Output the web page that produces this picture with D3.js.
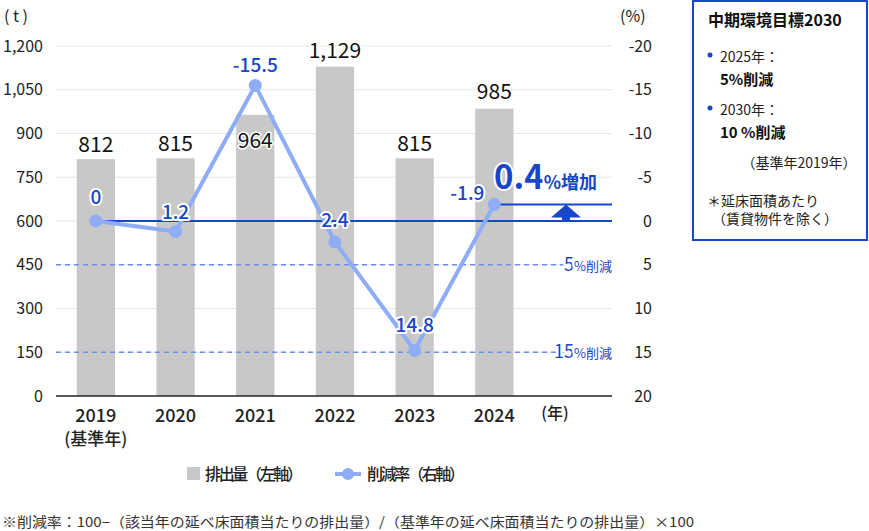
<!DOCTYPE html>
<html><head><meta charset="utf-8">
<script src="https://cdn.jsdelivr.net/npm/d3@7"></script>
<style>
body{margin:0;background:#fff;}
text{font-family:"Noto Sans CJK JP","Noto Sans",sans-serif;}
</style></head>
<body><svg id="c" width="869" height="531"></svg>
<script>
const years = ["2019","2020","2021","2022","2023","2024"];
const emissions = [812, 815, 964, 1129, 815, 985];
const rates = [0, 1.2, -15.5, 2.4, 14.8, -1.9];
const rateLabels = ["0","1.2","-15.5","2.4","14.8","-1.9"];
const leftTicks = [0,150,300,450,600,750,900,1050,1200];
const rightTicks = [-20,-15,-10,-5,0,5,10,15,20];
const targets = [5, 15];

const svg = d3.select("#c");
const L = 56, R = 612, T = 46, B = 396;
const x = d3.scaleBand().domain(years).range([L, 534.2]).paddingInner(0.52).paddingOuter(0.26);
const yL = d3.scaleLinear().domain([0,1200]).range([B,T]);
const yR = d3.scaleLinear().domain([-20,20]).range([T,B]);
const cx = d => x(d) + x.bandwidth()/2;
const blue = "#1746c8", light = "#8eadf5", dash = "#6f8fe8";

// gridlines
svg.append("g").selectAll("line").data(leftTicks.filter(d=>d>0)).join("line")
  .attr("x1",L).attr("x2",R).attr("y1",d=>yL(d)).attr("y2",d=>yL(d))
  .attr("stroke","#e6e6e6").attr("stroke-width",1);

// left axis
const gl = svg.append("g").attr("transform",`translate(${L-10},0)`)
  .call(d3.axisLeft(yL).tickValues(leftTicks).tickSize(0).tickFormat(d3.format(",")));
gl.select(".domain").remove();
gl.selectAll("text").attr("font-size",16).attr("fill","#222").attr("font-family",'"Noto Sans CJK JP",sans-serif');
// right axis
const gr = svg.append("g").attr("transform",`translate(${652},0)`)
  .call(d3.axisLeft(yR).tickValues(rightTicks).tickSize(0).tickPadding(0).tickFormat(d=>String(d)));
gr.select(".domain").remove();
gr.selectAll("text").attr("font-size",16).attr("fill","#222").attr("font-family",'"Noto Sans CJK JP",sans-serif');

svg.append("text").attr("x",4).attr("y",22).attr("font-size",16).attr("fill","#222").text("( t )");
svg.append("text").attr("x",620).attr("y",22).attr("font-size",16).attr("fill","#222").text("(%)");

// bars
svg.append("g").selectAll("rect").data(years).join("rect")
  .attr("x",d=>x(d)).attr("width",x.bandwidth())
  .attr("y",(d,i)=>yL(emissions[i])).attr("height",(d,i)=>B-yL(emissions[i]))
  .attr("fill","#c8c8c8");

// target dashed lines
targets.forEach(t=>{
  svg.append("line").attr("x1",L).attr("x2",R).attr("y1",yR(t)).attr("y2",yR(t))
    .attr("stroke",dash).attr("stroke-width",1.5).attr("stroke-dasharray","5,4");
  const tx = svg.append("text").attr("x",R).attr("y",yR(t)+6).attr("text-anchor","end")
    .attr("fill",blue).attr("paint-order","stroke").attr("stroke","#fff").attr("stroke-width",5);
  tx.append("tspan").attr("font-size",18).text(t);
  tx.append("tspan").attr("font-size",13).text("%削減");
});

// x axis
svg.append("line").attr("x1",L).attr("x2",R).attr("y1",B).attr("y2",B).attr("stroke","#222").attr("stroke-width",1.5);
svg.append("g").selectAll("text").data(years).join("text")
  .attr("x",d=>cx(d)).attr("y",422).attr("text-anchor","middle")
  .attr("font-size",18).attr("font-weight",500).attr("fill","#222").text(d=>d);
svg.append("text").attr("x",cx(years[0])).attr("y",445).attr("text-anchor","middle")
  .attr("font-size",17).attr("font-weight",500).attr("fill","#222").text("(基準年)");
svg.append("text").attr("x",555).attr("y",419).attr("text-anchor","middle")
  .attr("font-size",16).attr("font-weight",500).attr("fill","#222").text("(年)");

// zero line (from first point) and latest level line
svg.append("line").attr("x1",cx(years[0])).attr("x2",R).attr("y1",yR(0)).attr("y2",yR(0))
  .attr("stroke",blue).attr("stroke-width",2);
svg.append("line").attr("x1",cx(years[5])).attr("x2",R).attr("y1",yR(rates[5])).attr("y2",yR(rates[5]))
  .attr("stroke",blue).attr("stroke-width",2);
// arrow
const ax = 566, aTop = yR(rates[5]), aBase = aTop+13;
svg.append("path").attr("d",`M${ax},${aTop}L${ax+15},${aBase}L${ax+4},${aBase}L${ax+4},${yR(0)}L${ax-4},${yR(0)}L${ax-4},${aBase}L${ax-15},${aBase}Z`)
  .attr("fill",blue);

// bar value labels
const barDy = [-7,-7,33,-9,-7,-10];
svg.append("g").selectAll("text").data(years).join("text")
  .attr("x",d=>cx(d)).attr("y",(d,i)=>yL(emissions[i])+barDy[i]).attr("text-anchor","middle")
  .attr("font-size",21).attr("font-weight",400).attr("fill","#111")
  .attr("paint-order","stroke").attr("stroke","#fff").attr("stroke-width",3).attr("stroke-linejoin","round")
  .text((d,i)=>d3.format(",")(emissions[i]));

// rate line
const line = d3.line().x((d,i)=>cx(years[i])).y(d=>yR(d));
svg.append("path").datum(rates).attr("d",line).attr("fill","none").attr("stroke",light).attr("stroke-width",4).attr("stroke-linejoin","round");
svg.append("g").selectAll("circle").data(rates).join("circle")
  .attr("cx",(d,i)=>cx(years[i])).attr("cy",d=>yR(d)).attr("r",6.5).attr("fill",light);

// rate labels
const rDx = [0,0,0,0,0,-27], rDy = [-17,-13,-13,-15,-19,-4];
svg.append("g").selectAll("text").data(rates).join("text")
  .attr("x",(d,i)=>cx(years[i])+rDx[i]).attr("y",(d,i)=>yR(d)+rDy[i]).attr("text-anchor","middle")
  .attr("font-size",19).attr("font-weight",500).attr("fill",blue)
  .attr("paint-order","stroke").attr("stroke","#fff").attr("stroke-width",4).attr("stroke-linejoin","round")
  .text((d,i)=>rateLabels[i]);

// 0.4% increase label
const inc = svg.append("text").attr("x",494).attr("y",189).attr("fill",blue).attr("font-weight",700)
  .attr("paint-order","stroke").attr("stroke","#fff").attr("stroke-width",4).attr("stroke-linejoin","round");
inc.append("tspan").attr("font-size",33).text("0.4");
inc.append("tspan").attr("font-size",18).text("%増加");

// legend
svg.append("rect").attr("x",187).attr("y",467).attr("width",13).attr("height",13).attr("fill","#c8c8c8");
svg.append("text").attr("x",205).attr("y",480).attr("font-size",16).attr("font-weight",500).attr("fill","#222").text("排出量（左軸）").attr("textLength",98);
svg.append("line").attr("x1",335).attr("x2",361).attr("y1",474).attr("y2",474).attr("stroke",light).attr("stroke-width",4);
svg.append("circle").attr("cx",348).attr("cy",474).attr("r",6).attr("fill",light);
svg.append("text").attr("x",367).attr("y",480).attr("font-size",16).attr("font-weight",500).attr("fill","#222").text("削減率（右軸）").attr("textLength",98);

// footnote
svg.append("text").attr("x",2).attr("y",527).attr("font-size",13.5).attr("fill","#333")
  .attr("textLength",692).attr("lengthAdjust","spacingAndGlyphs")
  .text("※削減率：100−（該当年の延べ床面積当たりの排出量）/（基準年の延べ床面積当たりの排出量）×100");

// target box
svg.append("rect").attr("x",693).attr("y",1).attr("width",174).attr("height",239).attr("fill","#fff").attr("stroke",blue).attr("stroke-width",2);
svg.append("text").attr("x",708).attr("y",26).attr("font-size",16).attr("font-weight",700).attr("fill","#111").text("中期環境目標2030");
[[55,"2025年：","5%削減"],[108,"2030年：","10 %削減"]].forEach(([yy,a,b])=>{
  svg.append("circle").attr("cx",710).attr("cy",yy).attr("r",2.5).attr("fill",blue);
  svg.append("text").attr("x",720).attr("y",yy+7).attr("font-size",14).attr("fill","#222").text(a);
  svg.append("text").attr("x",720).attr("y",yy+30).attr("font-size",15).attr("font-weight",700).attr("fill","#111").text(b);
});
svg.append("text").attr("x",799).attr("y",168).attr("text-anchor","middle").attr("font-size",14).attr("fill","#222").text("（基準年2019年）");
svg.append("text").attr("x",707).attr("y",206).attr("font-size",14).attr("fill","#222").text("＊延床面積あたり");
svg.append("text").attr("x",712).attr("y",224).attr("font-size",14).attr("fill","#222").text("（賃貸物件を除く）");
</script></body></html>
